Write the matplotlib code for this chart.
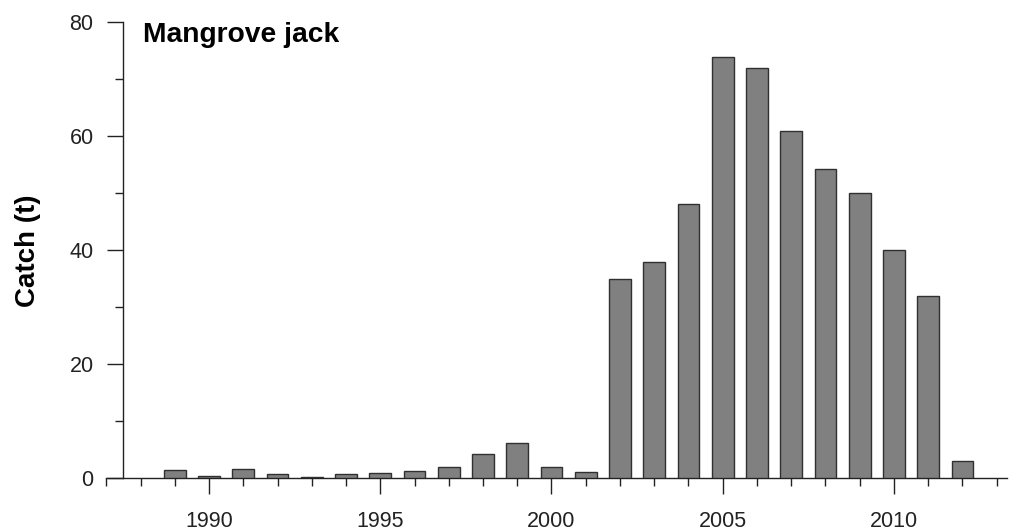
import numpy as np
import matplotlib
matplotlib.use("Agg")
import matplotlib.pyplot as plt
from matplotlib.ticker import MultipleLocator

plt.rcParams['font.family'] = ['Liberation Sans', 'DejaVu Sans']

years = np.arange(1989, 2013)
catch_t = [1.45, 0.35, 1.7, 0.7, 0.2, 0.7, 0.9, 1.2, 2.0, 4.2, 6.2, 2.0, 1.05,
           35.0, 38.0, 48.2, 74.0, 72.0, 61.0, 54.2, 50.0, 40.0, 32.0, 3.0]

fig = plt.figure(figsize=(10.14, 5.31), dpi=100)
ax = fig.add_axes([0.1048, 0.0992, 0.9931 - 0.1048, 0.958 - 0.0992])

ax.bar(years, catch_t, width=0.63, color='#808080', edgecolor='#303030', linewidth=1.0, zorder=3)

ax.set_xlim(1987.0, 2013.3)
ax.set_ylim(0, 80)

for s in ['top', 'right']:
    ax.spines[s].set_visible(False)
ax.spines['left'].set_position(('data', 1987.5))
ax.spines['left'].set_bounds(0, 80)
for s in ['left', 'bottom']:
    ax.spines[s].set_linewidth(1.0)
    ax.spines[s].set_color('#222222')

ax.xaxis.set_major_locator(MultipleLocator(5))
ax.xaxis.set_minor_locator(MultipleLocator(1))
ax.yaxis.set_major_locator(MultipleLocator(20))
ax.yaxis.set_minor_locator(MultipleLocator(10))

ax.tick_params(axis='both', which='major', direction='out', length=11.5, width=1.0,
               color='#222222', labelsize=15.5, labelcolor='#222222')
ax.tick_params(axis='x', which='major', pad=12)
ax.tick_params(axis='y', which='major', pad=10)
ax.tick_params(axis='both', which='minor', direction='out', length=5.8, width=1.0,
               color='#222222')

ax.set_ylabel('Catch (t)', fontsize=20, fontweight='bold')
ax.yaxis.set_label_coords(-0.072, 0.5)

fig.text(143 / 1014, 1 - 42 / 531, 'Mangrove jack', fontsize=20.3, fontweight='bold',
         ha='left', va='baseline')

fig.savefig('out.png', dpi=100)
